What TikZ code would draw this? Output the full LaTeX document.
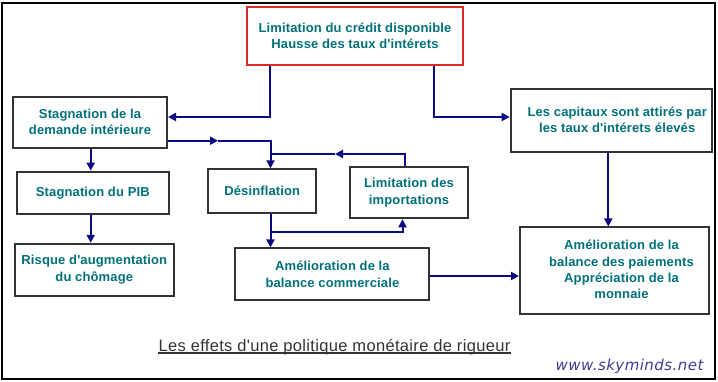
\documentclass[tikz,border=0pt]{standalone}
\usepackage{fontspec}
\setmainfont{Liberation Sans}
\newfontfamily\boxfont[LetterSpace=1]{Liberation Sans}
\newfontfamily\capfont[LetterSpace=2]{Liberation Sans}
\newfontfamily\wmfont[LetterSpace=3]{DejaVu Sans}
\usetikzlibrary{arrows.meta}
\definecolor{txt}{RGB}{0,112,122}
\definecolor{arr}{RGB}{10,10,130}
\definecolor{frm}{RGB}{51,51,51}
\definecolor{redb}{RGB}{222,42,36}
\definecolor{wm}{RGB}{60,60,150}
\begin{document}
\begin{tikzpicture}[x=1pt,y=-1pt,
  box/.style={draw=frm, line width=2pt, inner sep=0pt, align=center, text=txt,
    font=\boxfont\bfseries\fontsize{13}{16.3}\selectfont},
  conn/.style={draw=arr, line width=2pt, -{Triangle[length=8pt,width=8pt]}},
  plain/.style={draw=arr, line width=2pt}]
\useasboundingbox (0,0) rectangle (718,382);
% outer frame
\draw[line width=1.5pt] (2,3) rectangle (715,379);
\draw[line width=2.5pt] (715,3) -- (715,379);
% boxes
\node[box, draw=redb, line width=2.5pt, minimum width=216pt, minimum height=58pt] (top) at (355,36)
  {Limitation du crédit disponible\\Hausse des taux d'intérets};
\node[box, minimum width=154pt, minimum height=51pt] (stag) at (90,122.2)
  {Stagnation de la\\demande intérieure};
\node[box, minimum width=201pt, minimum height=63pt] (cap) at (611.2,121)
  {\hspace*{12pt}\begin{tabular}{@{}c@{}}Les capitaux sont attirés par\\les taux d'intérets élevés\end{tabular}};
\node[box, minimum width=152pt, minimum height=42pt] (pib) at (92.8,192.7)
  {Stagnation du PIB};
\node[box, minimum width=107.5pt, minimum height=43.4pt] (des) at (262.2,191)
  {Désinflation};
\node[box, minimum width=118pt, minimum height=51.6pt] (lim) at (409,192.5)
  {Limitation des\\importations};
\node[box, minimum width=159pt, minimum height=52pt] (ris) at (94.3,269.8)
  {Risque d'augmentation\\du chômage};
\node[box, minimum width=194pt, minimum height=51.5pt] (com) at (332.4,274.2)
  {Amélioration de la\\balance commerciale};
\node[box, minimum width=189pt, minimum height=87pt] (pay) at (614.5,271)
  {\hspace*{14pt}\begin{tabular}{@{}c@{}}Amélioration de la\\balance des paiements\\Appréciation de la\\monnaie\end{tabular}};
% helper coordinates
\coordinate (a1) at (270,117);
\coordinate (a2) at (434,117);
\coordinate (m1) at (218,140.7);
\coordinate (j1) at (270.5,154);
\coordinate (m2) at (335,154);
\coordinate (l1) at (405,154);
\coordinate (vx) at (90.7,160);
\coordinate (b1) at (270.5,232.3);
\coordinate (l2) at (402.5,232.3);
\coordinate (h1) at (475,276);
\coordinate (v2) at (608.3,200);
% connectors
\draw[conn] (top.south -| a1) |- (stag.east |- a1);
\draw[conn] (top.south -| a2) |- (cap.west |- a2);
\draw[conn] (stag.east |- m1) -- (m1);
\draw[conn] (m1) -| (des.north -| j1);
\draw[conn] (lim.north -| l1) |- (m2);
\draw[plain] (m2) -- (j1);
\draw[conn] (vx |- stag.south) -- (vx |- pib.north);
\draw[conn] (vx |- pib.south) -- (vx |- ris.north);
\draw[conn] (des.south -| b1) -- (com.north -| b1);
\draw[conn] (b1) -| (lim.south -| l2);
\draw[conn] (com.east |- h1) -- (pay.west |- h1);
\draw[conn] (cap.south -| v2) -- (pay.north -| v2);
% caption
\node[anchor=base, inner sep=0pt, text=frm, font=\capfont\fontsize{16.5}{19}\selectfont] (title) at (334.5,351)
  {Les effets d'une politique monétaire de rigueur};
\draw[frm, line width=1.7pt] ([yshift=-2.3pt]title.base west) -- ([yshift=-2.3pt]title.base east);
% watermark
\node[inner sep=0pt, text=wm, font=\wmfont\itshape\fontsize{15}{17}\selectfont] (wmk) at (629.5,366)
  {www.skyminds.net};
\end{tikzpicture}
\end{document}
